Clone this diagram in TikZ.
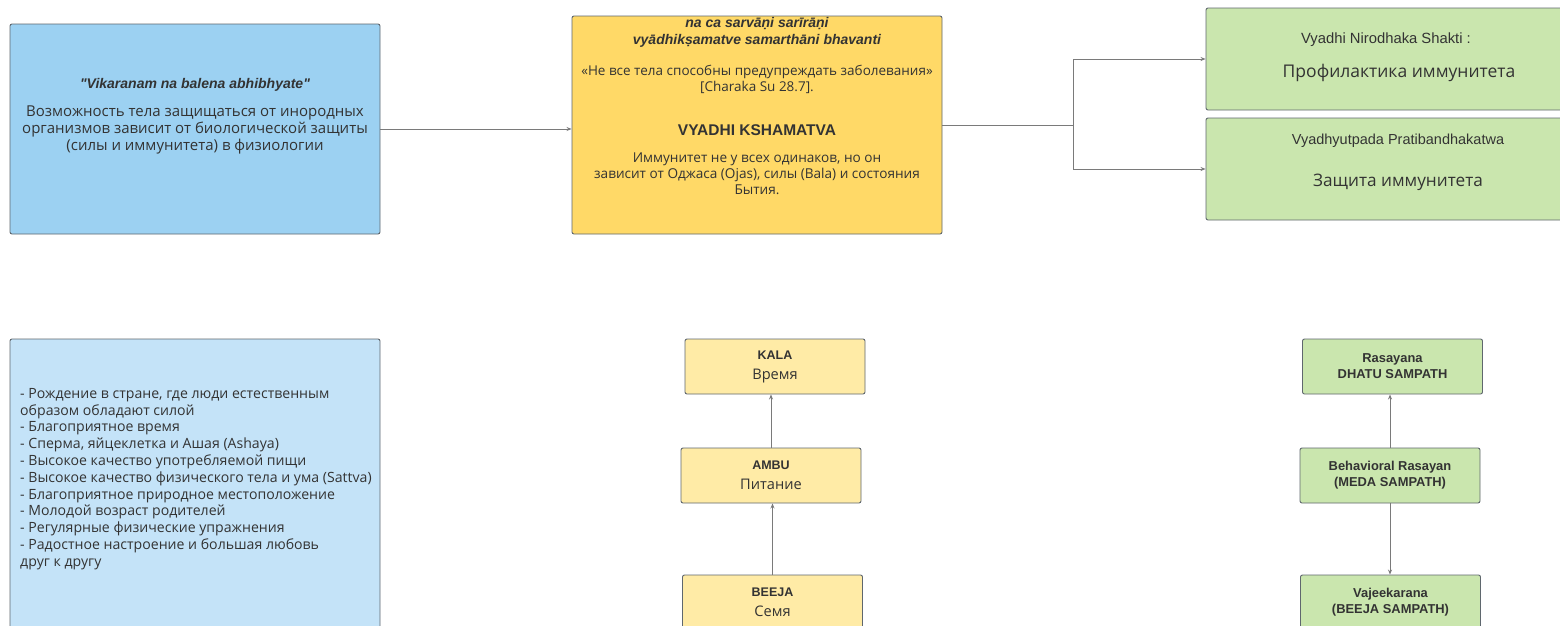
\documentclass[tikz,border=0pt]{standalone}
\usepackage{fontspec}
\setmainfont{Liberation Sans}[Ligatures=TeXOff]
\newfontfamily\rufont{Open Sans}
\usetikzlibrary{arrows.meta}
\definecolor{skyblue}{HTML}{9CD1F2}
\definecolor{paleblue}{HTML}{C4E3F8}
\definecolor{gold}{HTML}{FFD967}
\definecolor{paleyellow}{HTML}{FFEBA6}
\definecolor{leaf}{HTML}{CAE6AE}
\definecolor{rim}{HTML}{5F676E}
\definecolor{ink}{HTML}{333333}
\definecolor{wire}{HTML}{7A7A7A}
\newcommand{\fs}[2]{\fontsize{#1}{#2}\selectfont}
\begin{document}
\begin{tikzpicture}[x=1pt,y=-1pt,
		box/.style={draw=rim,line width=0.9pt,rounded corners=2pt,inner sep=0pt,text=ink,align=center},
		txt/.style={text=ink,align=center,inner sep=0pt},
		link/.style={draw=wire,line width=0.8pt},
		>={Stealth[length=5pt,width=4pt]}]
	\useasboundingbox[fill=white] (0,0) rectangle (1560,625);
	\clip (0,0) rectangle (1560,625);
	\node[box,fill=skyblue,minimum width=370,minimum height=210] (vik) at (195,129) {};
	\node[txt,font=\bfseries\itshape\fs{14}{16}] (viktitle) at (195,85) {"Vikaranam na balena abhibhyate"};
	\node[txt,font=\rufont\fs{15}{17}] (viktext) at (195,130) {Возможность тела защищаться от инородных\\организмов зависит от биологической защиты\\(силы и иммунитета) в физиологии};
	\node[box,fill=gold,minimum width=370,minimum height=218] (ksh) at (757,125) {};
	\node[txt,font=\bfseries\itshape\fs{14}{17}] (sloka) at (757,32.5) {na ca sarvāṇi sarīrāṇi\\vyādhikṣamatve samarthāni bhavanti};
	\node[txt,font=\rufont\fs{13.5}{16}] (quote) at (757,79) {«Не все тела способны предупреждать заболевания»\\{}[Charaka Su 28.7].};
	\node[txt,font=\bfseries\fs{15.5}{17}] (kshname) at (757,130) {VYADHI KSHAMATVA};
	\node[txt,font=\rufont\fs{13.6}{16}] (kshtext) at (757,174) {Иммунитет не у всех одинаков, но он\\зависит от Оджаса (Ojas), силы (Bala) и состояния\\Бытия.};
	\node[box,fill=leaf,minimum width=384,minimum height=102] (nirodh) at (1398,59) {};
	\node[txt,font=\fs{14.8}{16}] (nirodhen) at (1386,40) {Vyadhi Nirodhaka Shakti :};
	\node[txt,font=\rufont\fs{17.5}{19}] (nirodhru) at (1399,73) {Профилактика иммунитета};
	\node[box,fill=leaf,minimum width=384,minimum height=102] (pratib) at (1398,169) {};
	\node[txt,font=\fs{14.5}{16}] (pratiben) at (1398,141) {Vyadhyutpada Pratibandhakatwa};
	\node[txt,font=\rufont\fs{17.2}{19}] (pratibru) at (1398,182) {Защита иммунитета};
	\node[box,fill=paleblue,minimum width=370,minimum height=320] (janma) at (195,499) {};
	\node[txt,align=left,anchor=west,font=\rufont\fs{14.1}{16.8}] (janmalist) at (20,479) {- Рождение в стране, где люди естественным\\образом обладают силой\\- Благоприятное время\\- Сперма, яйцеклетка и Ашая (Ashaya)\\- Высокое качество употребляемой пищи\\- Высокое качество физического тела и ума (Sattva)\\- Благоприятное природное местоположение\\- Молодой возраст родителей\\- Регулярные физические упражнения\\- Радостное настроение и большая любовь\\друг к другу};
	\node[box,fill=paleyellow,minimum width=180,minimum height=55,font=\fs{12.5}{20}] (kala) at (775,366.5) {{\bfseries KALA}\\{\rufont\fs{14.6}{20}Время}};
	\node[box,fill=paleyellow,minimum width=180,minimum height=55,font=\fs{12.5}{20}] (ambu) at (771,475.5) {{\bfseries AMBU}\\{\rufont\fs{14.6}{20}Питание}};
	\node[box,fill=paleyellow,minimum width=180,minimum height=55,font=\fs{12.5}{20}] (beeja) at (772.5,602.5) {{\bfseries BEEJA}\\{\rufont\fs{14.6}{20}Семя}};
	\node[box,fill=leaf,minimum width=180,minimum height=55,font=\bfseries\fs{12.9}{16}] (dhatu) at (1392.5,366.5) {Rasayana\\DHATU SAMPATH};
	\node[box,fill=leaf,minimum width=180,minimum height=55,font=\bfseries\fs{12.9}{16}] (meda) at (1390,475.5) {Behavioral Rasayan\\(MEDA SAMPATH)};
	\node[box,fill=leaf,minimum width=180,minimum height=55,font=\bfseries\fs{12.9}{16}] (vajee) at (1390.5,602.5) {Vajeekarana\\(BEEJA SAMPATH)};
	\coordinate (fork) at (1073,125);
	\draw[link,->] (vik.east) -- (vik.east -| ksh.west);
	\draw[link] (ksh.east) -- (fork);
	\draw[link,->] (fork) |- (nirodh.west);
	\draw[link,->] (fork) |- (pratib.west);
	\draw[link,->] (ambu.north) -- (ambu.north |- kala.south);
	\draw[link,->] (beeja.north) -- (beeja.north |- ambu.south);
	\draw[link,->] (meda.north) -- (meda.north |- dhatu.south);
	\draw[link,->] (meda.south) -- (meda.south |- vajee.north);
\end{tikzpicture}
\end{document}
